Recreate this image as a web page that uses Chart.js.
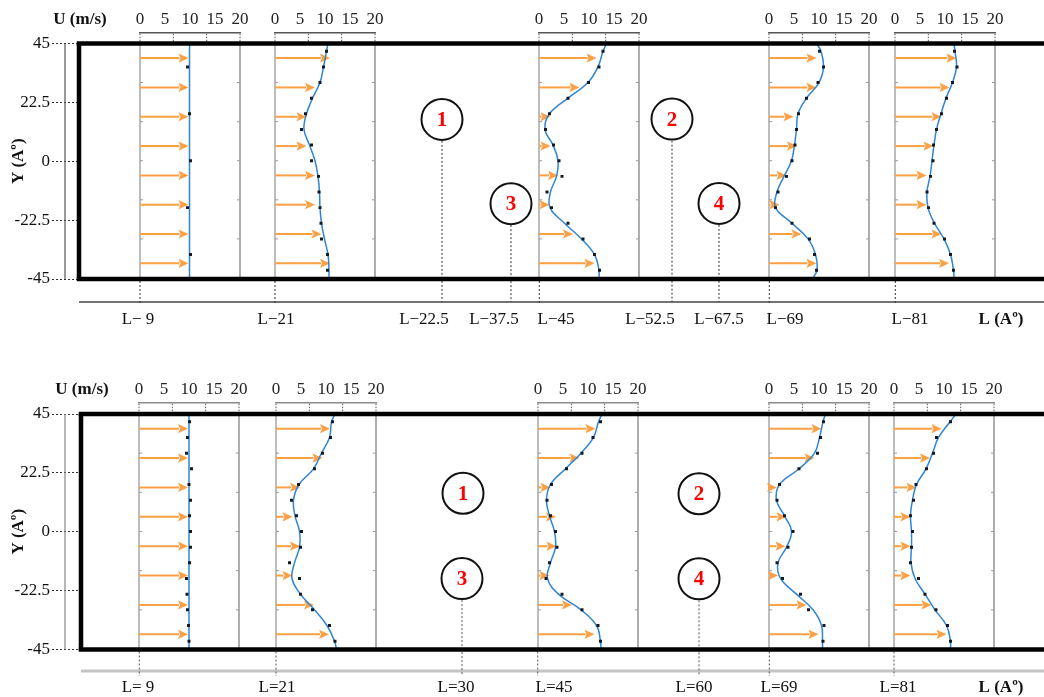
<!DOCTYPE html>
<html><head><meta charset="utf-8">
<script src="https://cdn.jsdelivr.net/npm/chart.js@4.4.1/dist/chart.umd.min.js"></script>
<style>
html,body{margin:0;padding:0;background:#fff;}
#wrap{position:relative;width:1044px;height:697px;overflow:hidden;background:#fff;}
#wrap canvas{position:absolute;}
</style></head><body><div id="wrap"></div>
<script>
// ---------------- data ----------------
const uTicks = [0, 5, 10, 15, 20];
const yTicks = [-45, -22.5, 0, 22.5, 45];
const yTickLabels = ['-45', '-22.5', '0', '22.5', '45'];
const yArrow = [39.375, 28.125, 16.875, 5.625, -5.625, -16.875, -28.125, -39.375];
const yDot = [42, 36, 30, 24, 18, 12, 6, 0, -6, -12, -18, -24, -30, -36, -42];
const yCurve = [45, 42, 36, 30, 24, 18, 12, 6, 0, -6, -12, -18, -24, -30, -36, -42, -45];
const circleLabels = ['1', '2', '3', '4'];
const topLLabels = ['L\u2212 9', 'L\u221221', 'L\u221222.5', 'L\u221237.5', 'L\u221245', 'L\u221252.5', 'L\u221267.5', 'L\u221269', 'L\u221281', 'L (A\u00ba)'];
const botLLabels = ['L= 9', 'L=21', 'L=30', 'L=45', 'L=60', 'L=69', 'L=81', 'L (A\u00ba)'];

// top panel (U in m/s)
const topL9Arrows  = [9.7, 9.7, 9.7, 9.7, 9.7, 9.7, 9.7, 9.7];
const topL9Dots    = [null, 9.5, null, null, 9.9, null, null, 10.1, null, null, 9.5, null, null, 10.1, null];
const topL9Curve   = [9.9, 9.9, 9.9, 9.9, 9.9, 9.9, 9.9, 9.9, 9.9, 9.9, 9.9, 9.9, 9.9, 9.9, 9.9, 9.9, 9.9];
const topL21Arrows = [11.0, 8.0, 6.3, 6.3, 8.0, 8.0, 9.3, 11.0];
const topL21Dots   = [10.3, 9.7, 9.0, 7.3, 6.1, 5.3, 7.3, 7.3, 8.7, 8.8, 9.0, 9.2, 9.3, 10.5, 10.5];
const topL21Curve  = [10.6, 10.3, 9.7, 9.0, 7.5, 6.3, 5.8, 6.9, 8.0, 8.6, 8.9, 9.0, 9.3, 9.9, 10.6, 10.8, 10.8];
const topL45Arrows = [11.5, 8.1, 2.3, 2.3, 3.8, 2.1, 6.8, 11.1];
const topL45Dots   = [12.8, 12.0, 9.9, 5.8, 2.1, 1.3, 2.9, 4.0, 4.6, 1.6, 2.5, 5.8, 8.8, 11.1, 12.1];
const topL45Curve  = [13.5, 12.8, 11.8, 9.8, 5.8, 2.1, 1.2, 2.8, 3.8, 3.5, 2.3, 2.2, 5.1, 8.5, 11.1, 12.0, 12.0];
const topL69Arrows = [9.5, 9.5, 4.9, 5.6, 3.5, 2.1, 6.5, 9.5];
const topL69Dots   = [10.1, 10.9, 9.8, 7.5, 5.9, 5.5, 5.2, 4.6, 3.5, 1.8, 1.3, 4.6, 8.1, 9.1, 9.5];
const topL69Curve  = [9.5, 10.4, 10.9, 10.0, 7.5, 5.8, 5.5, 5.1, 4.5, 3.0, 1.6, 1.3, 4.6, 7.8, 9.3, 9.6, 8.8];
const topL81Arrows = [12.3, 10.9, 9.3, 7.7, 6.3, 6.3, 9.3, 10.8];
const topL81Dots   = [11.9, 12.4, 11.5, 10.3, 9.3, 8.3, 7.7, 7.6, 7.1, 6.4, 6.7, 7.8, 9.9, 11.1, 11.7];
const topL81Curve  = [11.8, 12.0, 12.3, 11.5, 10.2, 9.2, 8.3, 7.8, 7.4, 7.0, 6.4, 6.6, 7.9, 9.8, 11.1, 11.7, 11.8];

// bottom panel (U in m/s)
const botL9Arrows  = [9.8, 9.8, 9.8, 9.8, 9.8, 9.8, 9.8, 9.8];
const botL9Dots    = [10.1, 9.7, 9.5, 10.5, 10.0, 10.3, 10.1, 10.3, 10.3, 10.1, 9.5, 9.6, 9.7, 9.9, 10.0];
const botL9Curve   = [10, 10, 10, 10, 10, 10, 10, 10, 10, 10, 10, 10, 10, 10, 10, 10, 10];
const botL21Arrows = [10.8, 9.3, 4.8, 3.3, 4.8, 3.3, 7.6, 10.6];
const botL21Dots   = [11.3, 10.9, 9.3, 7.7, 4.5, 3.1, 4.1, 5.1, 4.9, 2.7, 4.7, 4.9, 7.3, 10.7, 11.8];
const botL21Curve  = [11.8, 11.1, 10.7, 9.1, 7.5, 4.6, 3.5, 3.8, 4.7, 4.7, 3.7, 3.2, 4.9, 7.7, 10.2, 11.7, 12.1];
const botL45Arrows = [11.5, 8.3, 2.5, 3.6, 3.7, 2.3, 6.8, 11.3];
const botL45Dots   = [12.5, 11.0, 8.8, 5.7, 2.7, 1.8, 2.5, 3.5, 3.8, 2.3, 1.6, 4.8, 8.8, 12.0, 12.5];
const botL45Curve  = [12.8, 12.1, 11.1, 8.6, 5.5, 2.5, 1.7, 2.3, 3.3, 3.5, 2.5, 1.9, 4.1, 8.6, 11.7, 12.5, 12.6];
const botL69Arrows = [10.5, 9.1, 1.6, 3.5, 3.3, 1.8, 7.5, 9.9];
const botL69Dots   = [10.9, 10.3, 9.7, 6.0, 2.1, 1.6, 3.1, 4.8, 3.8, 1.6, 2.7, 6.3, 7.9, 11.0, 10.8];
const botL69Curve  = [11.3, 10.8, 10.1, 9.1, 6.0, 2.1, 1.5, 3.1, 4.5, 3.5, 1.8, 2.3, 5.5, 8.8, 10.5, 10.7, 10.7];
const botL81Arrows = [9.5, 7.2, 4.5, 3.3, 3.3, 3.3, 7.5, 10.5];
const botL81Dots   = [11.3, 8.5, 7.9, 6.5, 4.4, 3.9, 3.3, 3.7, 3.5, 3.3, 4.9, 6.2, 8.4, 10.7, 11.3];
const botL81Curve  = [12.4, 11.2, 8.9, 7.7, 6.4, 4.5, 3.7, 3.3, 3.5, 3.5, 3.4, 4.2, 6.2, 8.2, 10.5, 11.3, 11.3];

// ---------------- layout / style ----------------
const FONT = "'Liberation Serif', 'Times New Roman', serif";
const ARROW = '#FBA044';
const frameTickY = [-30, -15, 0, 15, 30];
const uMarks = [0, 20 / 3, 40 / 3, 20];

const panels = [
  {
    canvasTop: 0, canvasH: 329, axisY: 32.7, boxTop: 43.5, boxBottom: 279, boxLeft: 79,
    yLineX: 65, yLineColor: '#555', lAxisY: 302, lAxisColor: '#444', lAxisWidth: 1.3,
    uAxisColor: '#555', leaderColor: '#333', leaderEnd: 305, circleLeaderEnd: 302, lLabelPad: 30.8,
    uTitleX: 80, uTitleY: 20,
    profX: [140, 275, 539.3, 769.3, 895.3],
    profiles: [
      { arrows: topL9Arrows, dots: topL9Dots, curve: topL9Curve },
      { arrows: topL21Arrows, dots: topL21Dots, curve: topL21Curve },
      { arrows: topL45Arrows, dots: topL45Dots, curve: topL45Curve },
      { arrows: topL69Arrows, dots: topL69Dots, curve: topL69Curve },
      { arrows: topL81Arrows, dots: topL81Dots, curve: topL81Curve }
    ],
    circleX: [442, 672, 511, 719], circleY: [16, 16.1, -16.2, -16.1],
    circleLeader: [true, true, true, true],
    lLabels: topLLabels, lLabelX: [138, 276, 424, 494, 556, 650, 719, 785, 910, 1001]
  },
  {
    canvasTop: 370, canvasH: 327, axisY: 402.7, boxTop: 414, boxBottom: 649.5, boxLeft: 81,
    yLineX: 65, yLineColor: '#888', lAxisY: 671, lAxisColor: '#c4c4c4', lAxisWidth: 3,
    uAxisColor: '#8a8a8a', leaderColor: '#555', leaderEnd: 676, circleLeaderEnd: 676, lLabelPad: 28.3,
    uTitleX: 82, uTitleY: 390,
    profX: [139.3, 276, 537.7, 769.3, 894],
    profiles: [
      { arrows: botL9Arrows, dots: botL9Dots, curve: botL9Curve },
      { arrows: botL21Arrows, dots: botL21Dots, curve: botL21Curve },
      { arrows: botL45Arrows, dots: botL45Dots, curve: botL45Curve },
      { arrows: botL69Arrows, dots: botL69Dots, curve: botL69Curve },
      { arrows: botL81Arrows, dots: botL81Dots, curve: botL81Curve }
    ],
    circleX: [463, 699, 462, 699], circleY: [14.7, 14.5, -17.9, -18],
    circleLeader: [false, false, true, true],
    lLabels: botLLabels, lLabelX: [138, 277, 456, 554, 694, 779, 898, 1001]
  }
];

// ---------------- helpers ----------------
const wrap = document.getElementById('wrap');
function addCanvas(left, top, w, h, z) {
  const cv = document.createElement('canvas');
  cv.width = w; cv.height = h;
  cv.style.left = left + 'px'; cv.style.top = top + 'px';
  cv.style.width = w + 'px'; cv.style.height = h + 'px';
  cv.style.zIndex = z;
  wrap.appendChild(cv);
  return cv;
}
function seg(ctx, x1, y1, x2, y2) {
  ctx.beginPath(); ctx.moveTo(x1, y1); ctx.lineTo(x2, y2); ctx.stroke();
}

function profilePlugin() {
  return {
    id: 'profileDecor',
    beforeDatasetsDraw(chart) {
      const { ctx, scales: { x, y } } = chart;
      const xl = x.getPixelForValue(0), xr = x.getPixelForValue(20);
      const yt = y.getPixelForValue(45), yb = y.getPixelForValue(-45);
      ctx.save();
      ctx.strokeStyle = '#bdbdbd'; ctx.lineWidth = 2;
      seg(ctx, xl, yt, xl, yb);
      ctx.strokeStyle = '#8c8c8c'; ctx.lineWidth = 1.4;
      seg(ctx, xr, yt, xr, yb);
      ctx.strokeStyle = '#9a9a9a'; ctx.lineWidth = 1;
      for (const v of frameTickY) {
        const p = y.getPixelForValue(v);
        seg(ctx, xl, p, xl + 3, p);
        seg(ctx, xr - 3, p, xr, p);
      }
      const meta = chart.getDatasetMeta(2);
      ctx.strokeStyle = ARROW; ctx.fillStyle = ARROW; ctx.lineWidth = 2;
      for (const el of meta.data) {
        const tip = el.x, py = el.y, hl = 10, hw = 4.6;
        seg(ctx, xl, py, tip - hl + 1, py);
        ctx.beginPath();
        ctx.moveTo(tip, py); ctx.lineTo(tip - hl, py - hw);
        ctx.lineTo(tip - hl + 2, py); ctx.lineTo(tip - hl, py + hw);
        ctx.closePath(); ctx.fill();
      }
      ctx.restore();
    },
    afterDraw(chart) {
      const { ctx, scales: { x, y }, chartArea } = chart;
      const yt = y.getPixelForValue(45);
      ctx.save();
      ctx.setLineDash([1.5, 1.5]); ctx.strokeStyle = '#555'; ctx.lineWidth = 1;
      for (const v of uMarks) {
        const px = x.getPixelForValue(v);
        seg(ctx, px, chartArea.top + 1, px, yt);
      }
      ctx.restore();
    }
  };
}

function makeProfile(panel, zeroX, prof) {
  const padX = 16;
  const w = 100 + 2 * padX;
  const h = Math.ceil(panel.boxBottom - panel.canvasTop + 3);
  const cv = addCanvas(zeroX - padX, panel.canvasTop, w, h, 1);
  const pxPerDeg = (panel.boxBottom - panel.boxTop) / 90;
  const yMax = 45 + (panel.boxTop - panel.axisY) / pxPerDeg;
  const bottomPad = h - (panel.boxBottom - panel.canvasTop);
  new Chart(cv, {
    type: 'scatter',
    data: {
      datasets: [
        { type: 'line', data: yCurve.map((yv, i) => ({ x: prof.curve[i], y: yv })),
          borderColor: '#2f84d4', borderWidth: 1.5, tension: 0.4, pointRadius: 0, fill: false, order: 2 },
        { type: 'scatter', data: yDot.map((yv, i) => ({ x: prof.dots[i], y: yv })).filter(p => p.x !== null),
          pointStyle: 'rect', pointRadius: 2.1, backgroundColor: '#141821', borderWidth: 0, order: 1 },
        { type: 'scatter', data: yArrow.map((yv, i) => ({ x: prof.arrows[i], y: yv })),
          pointRadius: 0, borderWidth: 0, order: 3 }
      ]
    },
    options: {
      responsive: false, animation: false, events: [], devicePixelRatio: 1,
      layout: { padding: { left: padX, right: padX, top: 0, bottom: bottomPad } },
      plugins: { legend: { display: false }, tooltip: { enabled: false } },
      scales: {
        x: {
          type: 'linear', position: 'top', min: 0, max: 20,
          afterBuildTicks: s => { s.ticks = uTicks.map(v => ({ value: v })); },
          ticks: { autoSkip: false, maxRotation: 0, padding: 2.5, color: '#222', font: { family: FONT, size: 17 } },
          grid: { display: true, drawOnChartArea: false, drawTicks: false, color: 'rgba(0,0,0,0)' },
          border: { display: true, color: panel.uAxisColor, width: 1.5 },
          afterFit: s => { s.height = panel.axisY - panel.canvasTop; }
        },
        y: { type: 'linear', min: -45, max: yMax, display: false }
      }
    },
    plugins: [profilePlugin()]
  });
}

function framePlugin(panel) {
  return {
    id: 'frameDecor',
    afterDraw(chart) {
      const { ctx, chartArea: ca } = chart;
      const T = panel.canvasTop;
      const R = 20.5;
      ctx.save();
      ctx.strokeStyle = panel.yLineColor; ctx.lineWidth = 1.2;
      seg(ctx, panel.yLineX, ca.top, panel.yLineX, ca.bottom);
      ctx.strokeStyle = panel.lAxisColor; ctx.lineWidth = panel.lAxisWidth;
      seg(ctx, panel.boxLeft, panel.lAxisY - T, 1044, panel.lAxisY - T);
      ctx.setLineDash([2, 2]); ctx.strokeStyle = panel.leaderColor; ctx.lineWidth = 1;
      for (const px of panel.profX) seg(ctx, px, ca.bottom + 2, px, panel.leaderEnd - T);
      const meta = chart.getDatasetMeta(0);
      meta.data.forEach((el, i) => {
        if (panel.circleLeader[i]) seg(ctx, el.x, el.y + R + 1, el.x, panel.circleLeaderEnd - T);
      });
      ctx.setLineDash([]);
      ctx.fillStyle = '#ff0000'; ctx.font = 'bold 21px ' + FONT;
      ctx.textAlign = 'center'; ctx.textBaseline = 'middle';
      meta.data.forEach((el, i) => ctx.fillText(circleLabels[i], el.x, el.y + 1));
      ctx.fillStyle = '#111'; ctx.font = 'bold 17px ' + FONT;
      ctx.fillText('U (m/s)', panel.uTitleX, panel.uTitleY - T);
      ctx.strokeStyle = '#000'; ctx.lineWidth = 4.5;
      seg(ctx, ca.left - 2.25, ca.top, 1044, ca.top);
      seg(ctx, ca.left - 2.25, ca.bottom, 1044, ca.bottom);
      seg(ctx, ca.left, ca.top, ca.left, ca.bottom);
      ctx.restore();
    }
  };
}

function makeFrame(panel) {
  const cv = addCanvas(0, panel.canvasTop, 1044, panel.canvasH, 2);
  const H = panel.canvasH;
  const lastIdx = panel.lLabels.length - 1;
  const ch = new Chart(cv, {
    type: 'scatter',
    data: {
      datasets: [{
        data: panel.circleX.map((xv, i) => ({ x: xv, y: panel.circleY[i] })),
        pointStyle: 'circle', pointRadius: 20.5, borderColor: '#111', borderWidth: 2, backgroundColor: '#fff'
      }]
    },
    options: {
      responsive: false, animation: false, events: [], devicePixelRatio: 1,
      layout: { padding: { top: panel.boxTop - panel.canvasTop, left: 0, right: 0, bottom: 0 } },
      plugins: { legend: { display: false }, tooltip: { enabled: false } },
      scales: {
        x: {
          type: 'linear', position: 'bottom', min: panel.boxLeft, max: 1044,
          afterBuildTicks: s => { s.ticks = panel.lLabelX.map(v => ({ value: v })); },
          ticks: {
            autoSkip: false, maxRotation: 0, padding: 0, color: '#111',
            font: c => ({ family: FONT, size: 17, weight: c.index === lastIdx ? 'bold' : 'normal' }),
            callback: (v, i) => panel.lLabels[i]
          },
          // invisible tick marks only used to push the labels below the L axis line
          grid: { display: false, drawTicks: true, tickLength: panel.lLabelPad },
          border: { display: false },
          afterFit: s => { s.height = H - (panel.boxBottom - panel.canvasTop); }
        },
        y: {
          type: 'linear', position: 'left', min: -45, max: 45,
          afterBuildTicks: s => { s.ticks = yTicks.map(v => ({ value: v })); },
          ticks: { autoSkip: false, padding: 2, color: '#111', font: { family: FONT, size: 17 },
                   callback: (v, i) => yTickLabels[i] },
          grid: { display: true, drawOnChartArea: false, drawTicks: true, tickLength: panel.boxLeft - 52,
                  tickBorderDash: [2, 2], tickColor: '#333', tickWidth: 1, color: 'rgba(0,0,0,0)' },
          border: { display: false },
          title: { display: true, text: 'Y (A\u00ba)', color: '#111',
                   font: { family: FONT, size: 17, weight: 'bold' }, padding: { top: 8, bottom: 0 } },
          afterFit: s => { s.width = panel.boxLeft; }
        }
      }
    },
    plugins: [framePlugin(panel)]
  });
  // keep the layout x-scale mapping page pixels 1:1 inside the chart area
  if (Math.abs(ch.chartArea.right - 1044) > 0.5 || Math.abs(ch.chartArea.left - panel.boxLeft) > 0.5) {
    ch.options.scales.x.min = ch.chartArea.left;
    ch.options.scales.x.max = ch.chartArea.right;
    ch.update();
  }
}

for (const panel of panels) {
  panel.profiles.forEach((prof, i) => makeProfile(panel, panel.profX[i], prof));
  makeFrame(panel);
}
</script>
</body></html>
